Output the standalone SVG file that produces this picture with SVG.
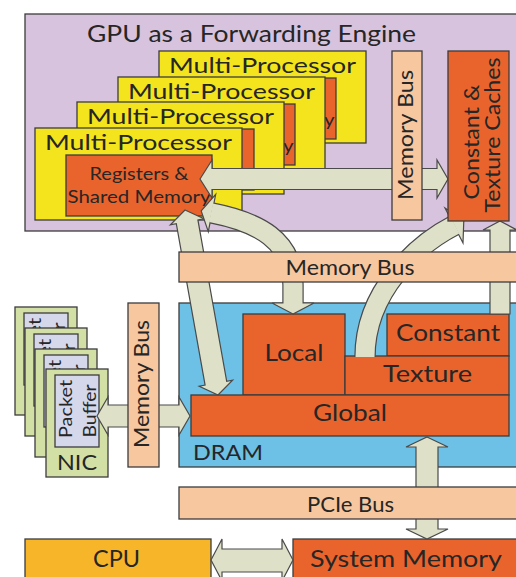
<svg xmlns="http://www.w3.org/2000/svg" xmlns:xlink="http://www.w3.org/1999/xlink" width="516" height="577" viewBox="0 0 516 577">
  <style>
    .box { stroke: #3c3c3c; stroke-width: 1.3; }
    .gpu { fill: #d7c3dd; }
    .mp { fill: #f4e41e; }
    .org { fill: #e8642c; }
    .bus { fill: #f7c7a0; }
    .dram { fill: #6dc1e6; }
    .nic { fill: #d3e0a5; }
    .buf { fill: #d5d7ea; }
    .cpu { fill: #f7b52a; }
    .t { font-family: Lato, "Liberation Sans", sans-serif; fill: #262626; }
    .arrow { fill: #dfe0c8; stroke: #4a4a4a; stroke-width: 1.2; stroke-linejoin: miter; }
    .band-o { fill: none; stroke: #4a4a4a; stroke-width: 21.4; }
    .band-i { fill: none; stroke: #dfe0c8; stroke-width: 19; }
  </style>
  <defs>
    <!-- one streaming multiprocessor card, drawn at its own origin -->
    <g id="mpCard">
      <rect class="box mp" x="0" y="0" width="207" height="92"/>
      <text class="t" x="103.5" y="22" font-size="22" text-anchor="middle" textLength="187" lengthAdjust="spacingAndGlyphs">Multi-Processor</text>
      <rect class="box org" x="31" y="27" width="146" height="61"/>
      <text class="t" x="104" y="52" font-size="18" text-anchor="middle" textLength="99" lengthAdjust="spacingAndGlyphs">Registers &amp;</text>
      <text class="t" x="104" y="75" font-size="18" text-anchor="middle" textLength="143" lengthAdjust="spacingAndGlyphs">Shared Memory</text>
    </g>
    <!-- one NIC card with its packet buffer -->
    <g id="nicCard">
      <rect class="box nic" x="0" y="0" width="62" height="108"/>
      <rect class="box buf" x="9" y="6" width="44" height="72"/>
      <text class="t" font-size="17" text-anchor="middle" textLength="58" lengthAdjust="spacingAndGlyphs" transform="translate(26,40) rotate(-90)">Packet</text>
      <text class="t" font-size="17" text-anchor="middle" textLength="53" lengthAdjust="spacingAndGlyphs" transform="translate(50,42) rotate(-90)">Buffer</text>
      <text class="t" x="31" y="101" font-size="22" text-anchor="middle" textLength="40" lengthAdjust="spacingAndGlyphs">NIC</text>
    </g>
  </defs>

  <rect width="516" height="577" fill="#ffffff"/>

  <!-- GPU enclosure -->
  <g id="gpu">
    <rect class="box gpu" x="25" y="14" width="500" height="217"/>
    <text class="t" x="251.5" y="42" font-size="23" text-anchor="middle" textLength="329" lengthAdjust="spacingAndGlyphs">GPU as a Forwarding Engine</text>
  </g>

  <!-- multiprocessor stack, back to front -->
  <g id="mp4"><use xlink:href="#mpCard" x="159" y="51"/></g>
  <g id="mp3"><use xlink:href="#mpCard" x="118" y="77"/></g>
  <g id="mp2"><use xlink:href="#mpCard" x="77" y="102"/></g>
  <g id="mp1"><use xlink:href="#mpCard" x="35" y="128"/></g>

  <!-- device memory -->
  <g id="dram">
    <rect class="box dram" x="179" y="303" width="346" height="164"/>
    <text class="t" x="193" y="460" font-size="22" textLength="70" lengthAdjust="spacingAndGlyphs">DRAM</text>
  </g>
  <g id="local">
    <rect class="box org" x="243" y="314" width="102" height="81"/>
    <text class="t" x="294" y="361" font-size="23" text-anchor="middle" textLength="59" lengthAdjust="spacingAndGlyphs">Local</text>
  </g>
  <g id="constant">
    <rect class="box org" x="387" y="314" width="122" height="42"/>
    <text class="t" x="448" y="341" font-size="23" text-anchor="middle" textLength="104" lengthAdjust="spacingAndGlyphs">Constant</text>
  </g>
  <g id="texture">
    <rect class="box org" x="345" y="356" width="164" height="39"/>
    <text class="t" x="427.5" y="382" font-size="23" text-anchor="middle" textLength="89" lengthAdjust="spacingAndGlyphs">Texture</text>
  </g>
  <g id="global">
    <rect class="box org" x="191" y="395" width="318" height="41"/>
    <text class="t" x="350" y="421" font-size="23" text-anchor="middle" textLength="74" lengthAdjust="spacingAndGlyphs">Global</text>
  </g>

  <!-- NIC stack, back to front -->
  <g id="nic4"><use xlink:href="#nicCard" x="15" y="307"/></g>
  <g id="nic3"><use xlink:href="#nicCard" x="25" y="328"/></g>
  <g id="nic2"><use xlink:href="#nicCard" x="35" y="349"/></g>
  <g id="nic1"><use xlink:href="#nicCard" x="46" y="369"/></g>

  <!-- host side -->
  <g id="cpu">
    <rect class="box cpu" x="25" y="539" width="186" height="50"/>
    <text class="t" x="116.5" y="567" font-size="23" text-anchor="middle" textLength="47" lengthAdjust="spacingAndGlyphs">CPU</text>
  </g>
  <g id="sysmem">
    <rect class="box org" x="293" y="539" width="240" height="50"/>
    <text class="t" x="406" y="567" font-size="24" text-anchor="middle" textLength="192" lengthAdjust="spacingAndGlyphs">System Memory</text>
  </g>

  <!-- data paths -->
  <g id="connectors">
    <!-- registers <-> caches -->
    <polygon class="arrow" points="200,179 212,160 212,168.5 437,168.5 437,160 448,179 437,198 437,189.5 212,189.5 212,198"/>
    <!-- registers <-> global -->
    <polygon class="arrow" points="185,210 204,218.8 197.9,219.9 226.7,381.3 232.6,380.2 218,395 199.2,386.2 205.1,385.1 176.3,223.7 170.4,224.8"/>
    <!-- registers <-> local (curved) -->
    <path class="band-o" d="M212,213 C258,222 293,240 293,285 L293,303"/>
    <polygon class="arrow" points="201.2,210.9 215.7,194.4 208.3,231.6"/>
    <polygon class="arrow" points="293,314 272,303 314,303"/>
    <path class="band-i" d="M211,212.8 C258,222 293,240 293,285 L293,304"/>
    <!-- texture -> caches (curved) -->
    <path class="band-o" d="M365,357 C365,290 418.4,243.9 454,225.5"/>
    <polygon class="arrow" points="463.8,220.4 445,208 463,243"/>
    <path class="band-i" d="M365,357 C365,290 418.4,243.9 454.9,225"/>
    <!-- constant -> caches -->
    <polygon class="arrow" points="500,221 517,230 510,230 510,314 490,314 490,230 483,230"/>
    <!-- NIC buffer <-> global -->
    <polygon class="arrow" points="97,416 108,397 108,405 179,405 179,397 190,416 179,435 179,427 108,427 108,435"/>
    <!-- global <-> system memory -->
    <polygon class="arrow" points="427,437 448,447 438,447 438,529 448,529 427,539 406,529 416,529 416,447 406,447"/>
    <!-- CPU <-> system memory -->
    <polygon class="arrow" points="211,560 222,539 222,549 282,549 282,539 293,560 282,581 282,572 222,572 222,581"/>
  </g>

  <!-- buses -->
  <g id="gpuBus">
    <rect class="box bus" x="392" y="51" width="30" height="169"/>
    <text class="t" font-size="21" text-anchor="middle" textLength="130" lengthAdjust="spacingAndGlyphs" transform="translate(413,135) rotate(-90)">Memory Bus</text>
  </g>
  <g id="caches">
    <rect class="box org" x="448" y="51" width="61" height="170"/>
    <text class="t" font-size="22" text-anchor="middle" textLength="115" lengthAdjust="spacingAndGlyphs" transform="translate(479,142) rotate(-90)">Constant &amp;</text>
    <text class="t" font-size="22" text-anchor="middle" textLength="155" lengthAdjust="spacingAndGlyphs" transform="translate(500,135) rotate(-90)">Texture Caches</text>
  </g>
  <g id="memBus">
    <rect class="box bus" x="179" y="252" width="346" height="30"/>
    <text class="t" x="350" y="275" font-size="21" text-anchor="middle" textLength="129" lengthAdjust="spacingAndGlyphs">Memory Bus</text>
  </g>
  <g id="nicBus">
    <rect class="box bus" x="128" y="303" width="31" height="164"/>
    <text class="t" font-size="21" text-anchor="middle" textLength="128" lengthAdjust="spacingAndGlyphs" transform="translate(149,384) rotate(-90)">Memory Bus</text>
  </g>
  <g id="pcieBus">
    <rect class="box bus" x="179" y="487" width="346" height="32"/>
    <text class="t" x="350.5" y="512" font-size="21" text-anchor="middle" textLength="87" lengthAdjust="spacingAndGlyphs">PCIe Bus</text>
  </g>
</svg>
